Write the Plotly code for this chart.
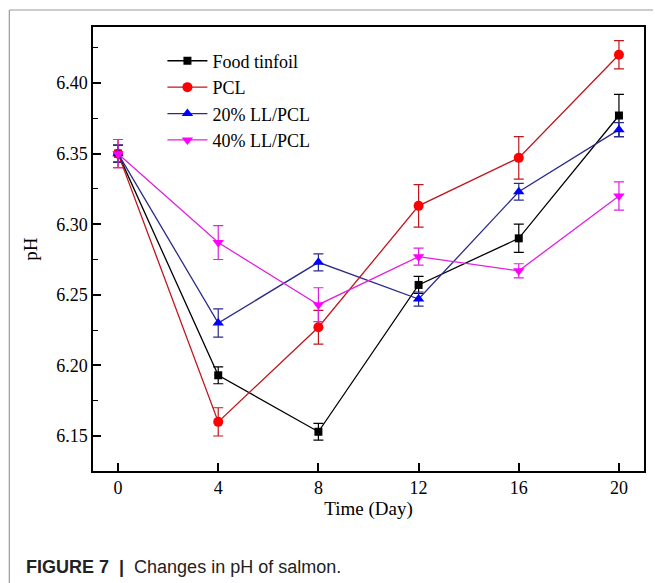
import plotly.graph_objects as go

days = [0, 4, 8, 12, 16, 20]

series_names = ["Food tinfoil", "PCL", "20% LL/PCL", "40% LL/PCL"]
food_tinfoil = [6.350, 6.193, 6.153, 6.257, 6.290, 6.377]
food_tinfoil_err = [0.006, 0.006, 0.006, 0.006, 0.010, 0.015]
pcl = [6.350, 6.160, 6.227, 6.313, 6.347, 6.420]
pcl_err = [0.010, 0.010, 0.012, 0.015, 0.015, 0.010]
ll20 = [6.350, 6.230, 6.273, 6.247, 6.323, 6.367]
ll20_err = [0.006, 0.010, 0.006, 0.005, 0.006, 0.005]
ll40 = [6.350, 6.287, 6.243, 6.277, 6.267, 6.320]
ll40_err = [0.010, 0.012, 0.012, 0.006, 0.005, 0.010]

y_ticks = [6.15, 6.20, 6.25, 6.30, 6.35, 6.40]
x_ticks = [0, 4, 8, 12, 16, 20]

styles = [
    dict(line="#000000", marker="#000000", symbol="square", size=8),
    dict(line="#c0161b", marker="#ff0000", symbol="circle", size=10),
    dict(line="#2b2b8c", marker="#0000ff", symbol="triangle-up", size=10),
    dict(line="#e020e0", marker="#ff00ff", symbol="triangle-down", size=10),
]
values = [food_tinfoil, pcl, ll20, ll40]
errors = [food_tinfoil_err, pcl_err, ll20_err, ll40_err]

fig = go.Figure()
for name, vals, errs, st in zip(series_names, values, errors, styles):
    fig.add_trace(go.Scatter(
        x=days, y=vals, name=name, mode="lines+markers",
        line=dict(color=st["line"], width=1.3),
        marker=dict(color=st["marker"], symbol=st["symbol"], size=st["size"],
                    line=dict(width=0)),
        error_y=dict(type="data", array=errs, visible=True,
                     color=st["line"], thickness=1.2, width=5),
    ))

font_serif = "Liberation Serif, Times New Roman, serif"

fig.update_layout(
    width=655, height=583,
    margin=dict(l=93, r=9, t=27, b=112),
    paper_bgcolor="white", plot_bgcolor="white",
    font=dict(family=font_serif, size=18, color="black"),
    showlegend=True,
    legend=dict(x=0.126, y=0.965, xanchor="left", yanchor="top",
                bgcolor="rgba(0,0,0,0)", font=dict(family=font_serif, size=18),
                tracegroupgap=0, itemwidth=40),
    xaxis=dict(range=[-1, 21], tickvals=x_ticks, ticks="inside", ticklen=8,
               tickwidth=1.5, tickcolor="black", showline=True, linecolor="black",
               linewidth=1.5, mirror=True, showgrid=False, zeroline=False,
               title=dict(text="Time (Day)", font=dict(size=19), standoff=2),
               tickfont=dict(size=18)),
    yaxis=dict(range=[6.1252, 6.4397], tickvals=y_ticks, tickformat=".2f",
               ticks="inside", ticklen=8, tickwidth=1.5, tickcolor="black",
               showline=True, linecolor="black", linewidth=1.5, mirror=True,
               showgrid=False, zeroline=False,
               minor=dict(dtick=0.025, tick0=6.125, ticks="inside", ticklen=5,
                          tickwidth=1.2, tickcolor="black", showgrid=False),
               title=dict(text="pH", font=dict(size=19), standoff=14),
               tickfont=dict(size=18)),
)

# outer frame of the figure panel (left and top gray lines)
W = 553.0
H = 444.0
fig.add_shape(type="line", xref="paper", yref="paper",
              x0=(9 - 93) / W, x1=(655 - 93) / W,
              y0=(471 - 10) / H, y1=(471 - 10) / H,
              line=dict(color="#9a9a9a", width=1.2))
fig.add_shape(type="line", xref="paper", yref="paper",
              x0=(9 - 93) / W, x1=(9 - 93) / W,
              y0=(471 - 10) / H, y1=(471 - 583) / H,
              line=dict(color="#9a9a9a", width=1.2))

fig.add_annotation(
    xref="paper", yref="paper", x=(24 - 93) / W, y=(471 - 567) / H,
    xanchor="left", yanchor="middle", showarrow=False,
    text="<b>FIGURE 7</b>  <b>|</b>  Changes in pH of salmon.",
    font=dict(family="Liberation Sans, Arial, sans-serif", size=18, color="#222222"),
)

fig.write_html("out.html")
